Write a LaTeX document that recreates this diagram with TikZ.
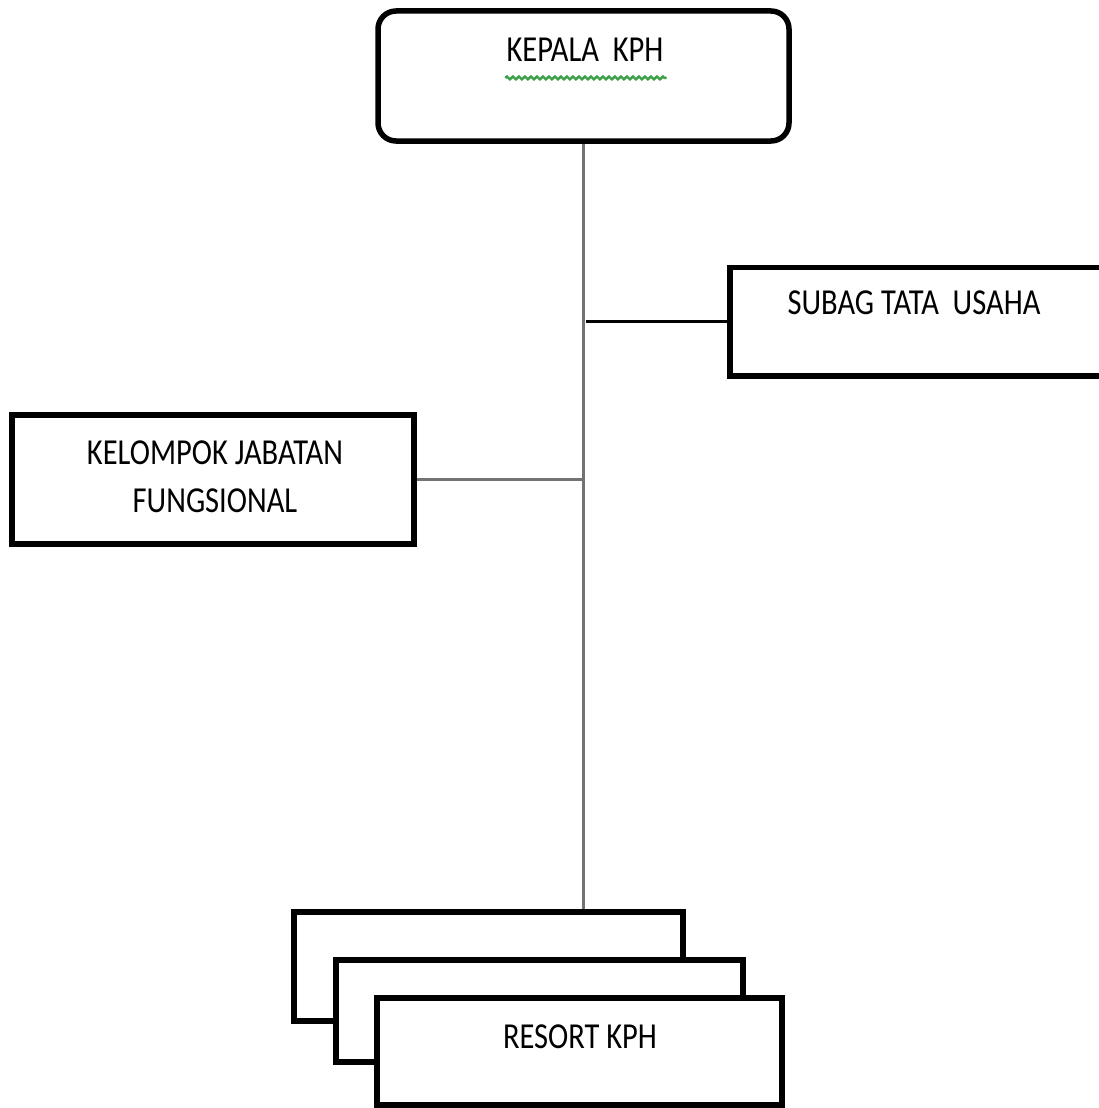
\documentclass[tikz,border=0pt]{standalone}
\usepackage{fontspec}
\setmainfont{Carlito}
\usetikzlibrary{decorations.pathmorphing}
\definecolor{squiggle}{RGB}{60,160,70}
\definecolor{linkgray}{RGB}{115,115,115}
\begin{document}
\begin{tikzpicture}[x=1pt,y=-1pt,
  box/.style={draw=black, line width=5.5pt, fill=white, rectangle, inner sep=0pt},
  txt/.style={inner sep=0pt, font=\fontsize{30.5}{36}\selectfont, align=center},
  link/.style={draw=linkgray, line width=2.6pt},
  linkdark/.style={draw=black, line width=3pt}]
\fill[white] (0,0) rectangle (1098,1108);
\useasboundingbox (0,0) rectangle (1098,1108);

% top box
\node[box, rounded corners=18pt, minimum width=411pt, minimum height=130pt] (kepala) at (583.5,76) {};
\node[txt] (kepalatxt) at (585,50) {\scalebox{1}[1.2]{KEPALA\ \ KPH}};
\draw[squiggle, line width=2.4pt, decorate, decoration={zigzag, segment length=6pt, amplitude=1.4pt}]
  (kepalatxt.south west) ++(-1,16) coordinate (sqa) -- ([xshift=3pt]kepalatxt.south east |- sqa) coordinate (sqb);

% subag box
\node[box, minimum width=390pt, minimum height=108.5pt] (subag) at (925,321.5) {};
\node[txt] (subagtxt) at (914,303) {\scalebox{1}[1.2]{SUBAG TATA\ \ USAHA}};

% kelompok box
\node[box, minimum width=402pt, minimum height=129pt] (kelompok) at (213,479.5) {};
\node[txt] (kelompoktxt) at (215,476.5) {\scalebox{1}[1.2]{KELOMPOK JABATAN}\\[12pt]\scalebox{1}[1.2]{FUNGSIONAL}};

% stacked resort boxes
\node[box, minimum width=389pt, minimum height=109pt] (resortc) at (488.5,966.5) {};
\node[box, minimum width=407pt, minimum height=102pt] (resortb) at (539.5,1011) {};
\node[box, minimum width=405pt, minimum height=107pt] (resort) at (579.5,1051.5) {};
\node[txt] (resorttxt) at (580,1037) {\scalebox{1}[1.2]{RESORT\ KPH}};

% connectors
\coordinate (jsub) at (kepala.south |- subag.west);
\coordinate (jkel) at (kepala.south |- kelompok.east);
\draw[link] (kepala.south) -- (kepala.south |- resortc.north);
\draw[linkdark] ([xshift=2pt]jsub) -- (subag.west);
\draw[link] (jkel) -- (kelompok.east);
\end{tikzpicture}
\end{document}
